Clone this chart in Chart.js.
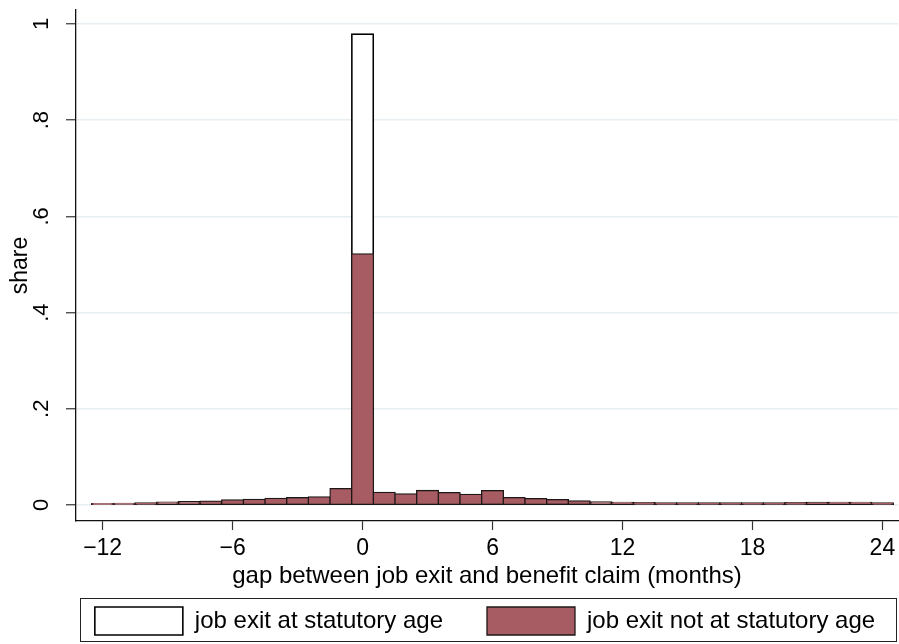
<!DOCTYPE html>
<html>
<head>
<meta charset="utf-8">
<script src="https://cdn.jsdelivr.net/npm/chart.js@4.4.0/dist/chart.umd.min.js"></script>
<style>
  html, body { margin: 0; padding: 0; background: #ffffff; }
  #wrap { width: 899px; height: 644px; }
</style>
</head>
<body>
<div id="wrap"><canvas id="c" width="899" height="644"></canvas></div>
<script>
// Gap between job exit and benefit claim, in months (one bin per month)
const months = [-12, -11, -10, -9, -8, -7, -6, -5, -4, -3, -2, -1, 0,
                1, 2, 3, 4, 5, 6, 7, 8, 9, 10, 11, 12,
                13, 14, 15, 16, 17, 18, 19, 20, 21, 22, 23, 24];

// Share of claimants per month: job exit at statutory age
const atStatutoryAge = [0.002, 0.002, 0.002, 0.002, 0.002, 0.002, 0.002, 0.002, 0.002, 0.002, 0.002, 0.002, 0.979,
                        0.002, 0.002, 0.002, 0.002, 0.002, 0.002, 0.002, 0.002, 0.002, 0.002, 0.002, 0.002,
                        0.002, 0.002, 0.002, 0.002, 0.002, 0.002, 0.002, 0.002, 0.002, 0.002, 0.002, 0.002];

// Share of claimants per month: job exit not at statutory age
const notAtStatutoryAge = [0.0025, 0.003, 0.004, 0.006, 0.007, 0.008, 0.0104, 0.0116, 0.0137, 0.015, 0.0166, 0.034, 0.522,
                           0.026, 0.023, 0.030, 0.0256, 0.022, 0.0297, 0.015, 0.013, 0.011, 0.0083, 0.0062, 0.0055,
                           0.0045, 0.0042, 0.004, 0.004, 0.004, 0.004, 0.0042, 0.0048, 0.0052, 0.0055, 0.0055, 0.004];

const xTickValues = [-12, -6, 0, 6, 12, 18, 24];
const xTickLabels = ['\u221212', '\u22126', '0', '6', '12', '18', '24'];
const yTickValues = [0, 0.2, 0.4, 0.6, 0.8, 1];
const yTickLabels = ['0', '.2', '.4', '.6', '.8', '1'];

const FONT = '"Liberation Sans", Arial, Helvetica, sans-serif';

const toPoints = (vals) => months.map((m, i) => ({ x: m, y: vals[i] }));

// Frames the legend and places it in its own band under the plot
const legendFrame = {
  id: 'legendFrame',
  afterLayout(chart) {
    const lg = chart.legend;
    lg.left = 45;
    lg.right = 925;
    lg.top = 563;
    lg.bottom = 644;
    lg.width = lg.right - lg.left;
    lg.height = lg.bottom - lg.top;
  },
  afterDraw(chart) {
    const ctx = chart.ctx;
    ctx.save();
    ctx.strokeStyle = '#222222';
    ctx.lineWidth = 1;
    ctx.strokeRect(80.5, 598.5, 816, 43);
    ctx.restore();
  }
};

new Chart(document.getElementById('c'), {
  type: 'bar',
  data: {
    datasets: [
      {
        label: 'job exit at statutory age',
        data: toPoints(atStatutoryAge),
        backgroundColor: '#ffffff',
        borderColor: '#000000',
        borderWidth: 1.6,
        borderSkipped: false,
        inflateAmount: 0.7,
        grouped: false,
        categoryPercentage: 1,
        barPercentage: 1,
        order: 1
      },
      {
        label: 'job exit not at statutory age',
        data: toPoints(notAtStatutoryAge),
        backgroundColor: '#a65c62',
        borderColor: '#1e1717',
        borderWidth: 1.3,
        borderSkipped: false,
        inflateAmount: 0.7,
        grouped: false,
        categoryPercentage: 1,
        barPercentage: 1,
        order: 0
      }
    ]
  },
  options: {
    responsive: false,
    devicePixelRatio: 1,
    animation: false,
    layout: { padding: { left: 0, right: 1, top: 10, bottom: 0 } },
    plugins: {
      tooltip: { enabled: false },
      legend: {
        position: 'bottom',
        maxHeight: 46,
        labels: {
          boxWidth: 88,
          boxHeight: 28,
          padding: 44,
          color: '#000000',
          font: { family: FONT, size: 24 },
          sort: (a, b) => a.datasetIndex - b.datasetIndex
        }
      }
    },
    scales: {
      x: {
        type: 'linear',
        min: -13.23,
        max: 24.72,
        offset: false,
        afterBuildTicks: (s) => { s.ticks = xTickValues.map(v => ({ value: v })); },
        afterFit: (s) => { s.height = 77; s.paddingLeft = 0; s.paddingRight = 0; },
        ticks: {
          autoSkip: false,
          maxRotation: 0,
          padding: 5,
          color: '#000000',
          font: { family: FONT, size: 23 },
          callback: (v, i) => xTickLabels[i]
        },
        grid: {
          offset: false,
          drawOnChartArea: false,
          tickLength: 9,
          tickColor: '#333333',
          tickWidth: 1.2
        },
        border: { display: true, color: '#111111', width: 1.3 },
        title: {
          display: true,
          text: 'gap between job exit and benefit claim (months)',
          color: '#000000',
          font: { family: FONT, size: 24 },
          padding: { top: 0, bottom: 7 }
        }
      },
      y: {
        type: 'linear',
        min: -0.0333,
        max: 1.029,
        afterBuildTicks: (s) => { s.ticks = yTickValues.map(v => ({ value: v })); },
        afterFit: (s) => { s.width = 76; s.paddingTop = 0; s.paddingBottom = 0; },
        ticks: {
          autoSkip: false,
          minRotation: 90,
          maxRotation: 90,
          crossAlign: 'center',
          padding: 15,
          color: '#000000',
          font: { family: FONT, size: 22 },
          callback: (v, i) => yTickLabels[i]
        },
        grid: {
          color: '#e6eef1',
          lineWidth: 1.5,
          tickLength: 10,
          tickColor: '#333333',
          tickWidth: 1.2
        },
        border: { display: true, color: '#111111', width: 1.3 },
        title: {
          display: true,
          text: 'share',
          color: '#000000',
          font: { family: FONT, size: 23 },
          padding: { top: 7, bottom: 0 }
        }
      }
    }
  },
  plugins: [legendFrame]
});
</script>
</body>
</html>
